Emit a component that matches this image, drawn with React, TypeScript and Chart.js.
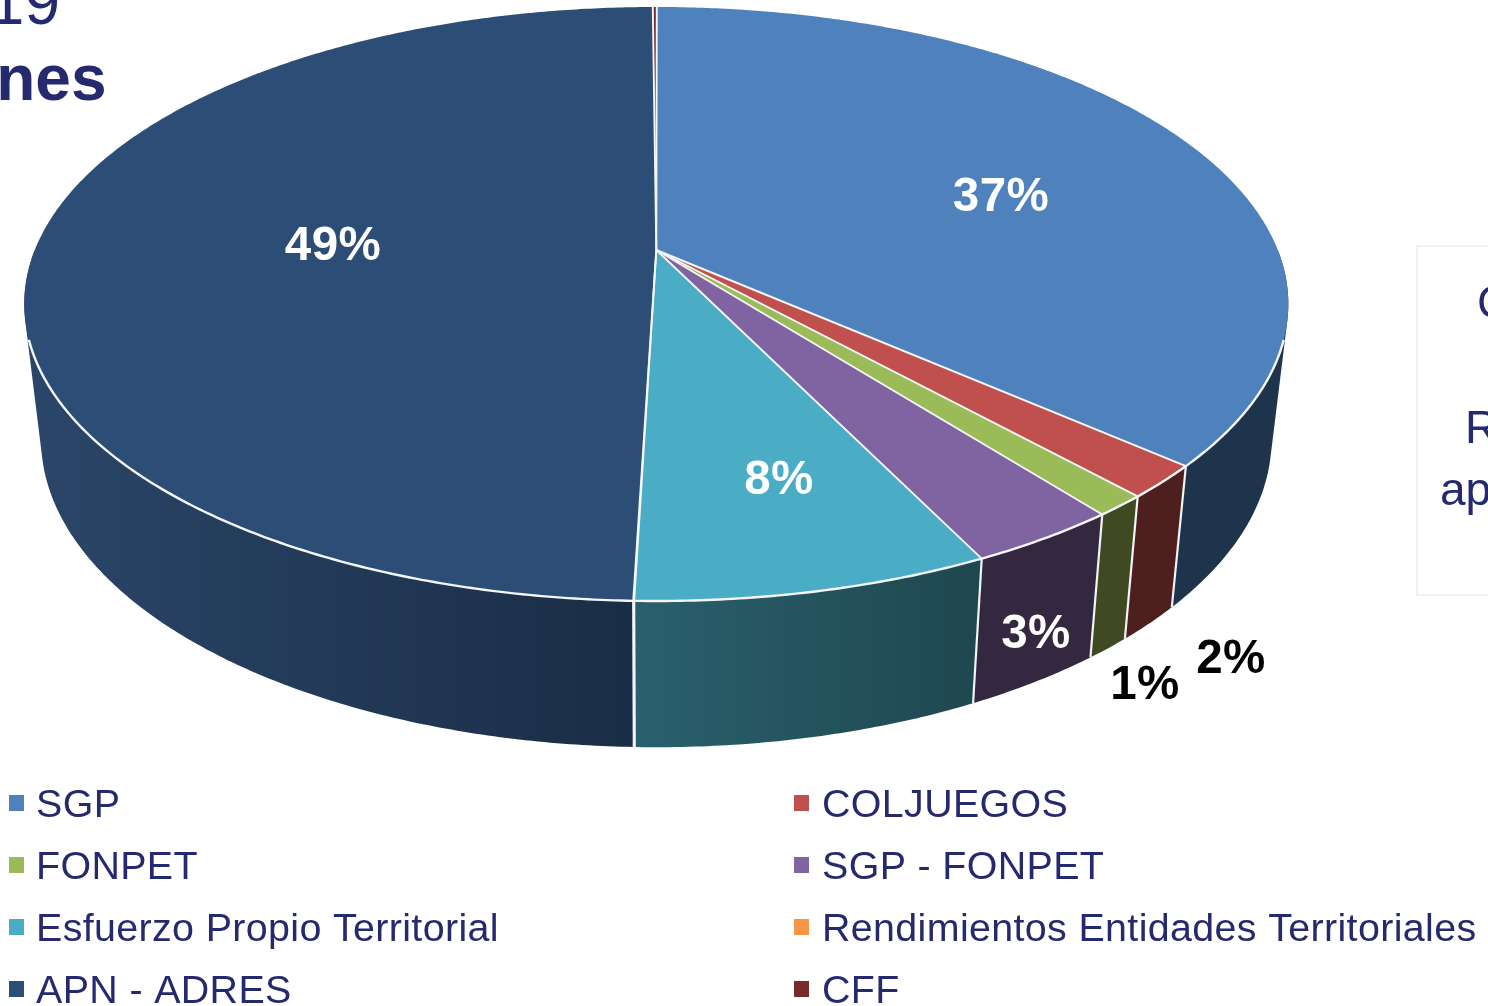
import React, { useEffect, useRef } from "react";
import { Chart, registerables } from "chart.js";

Chart.register(...registerables);

const categories = [
  "SGP",
  "COLJUEGOS",
  "FONPET",
  "SGP - FONPET",
  "Esfuerzo Propio Territorial",
  "Rendimientos Entidades Territoriales",
  "APN - ADRES",
  "CFF",
];
const shares = [36.5, 1.8, 1.15, 3.32, 7.68, 0.02, 49.41, 0.12];
const faceColors = ["#4f81bd", "#c0504d", "#9bbb59", "#8064a2", "#4bacc6", "#f79646", "#2c4d75", "#772c2a"];
const wallLeft = ["#1e344c", "#4d201f", "#3f4a22", "#33283f", "#2a606e", "#7a4a20", "#2b4669", "#3c1716"];
const wallRight = ["#1e344c", "#4d201f", "#3f4a22", "#33283f", "#1f474f", "#7a4a20", "#1a2d46", "#3c1716"];

const INK = "#252a6e";
const FONT = '"Liberation Sans", Arial, sans-serif';

// perspective of the pie's top and bottom discs
const K = -0.1818;
const TOP = { x: 656.3, y: 250, bx: 621.5, by: 287.2 };
const LOW = { x: 656.3, y: 383, bx: 605, by: 298 };

function project(disc: typeof TOP, t: number, r = 1) {
  const u = Math.cos(t) * r;
  const v = Math.sin(t) * r;
  const d = 1 + K * v;
  return { x: disc.x + (disc.bx * u) / d, y: disc.y + (disc.by * v) / d };
}

const STEP = Math.PI / 360;

function arcAngles(a: number, b: number) {
  const out: number[] = [a];
  for (let t = a + STEP; t < b; t += STEP) out.push(t);
  out.push(b);
  return out;
}

const pie3d = {
  id: "pie3d",
  beforeDatasetDraw(chart: any) {
    const ctx: CanvasRenderingContext2D = chart.ctx;
    const arcs = chart.getDatasetMeta(0).data;
    ctx.save();
    // side walls of the front half
    arcs.forEach((arc: any, i: number) => {
      const a = Math.max(arc.startAngle, 0);
      const b = Math.min(arc.endAngle, Math.PI);
      if (b <= a) return;
      const ts = arcAngles(a, b);
      let minX = Infinity;
      let maxX = -Infinity;
      ctx.beginPath();
      for (let k = 0; k < ts.length - 1; k++) {
        const p = [project(TOP, ts[k]), project(TOP, ts[k + 1]), project(LOW, ts[k + 1]), project(LOW, ts[k])];
        let area = 0;
        p.forEach((q, n) => {
          const w = p[(n + 1) % 4];
          area += q.x * w.y - w.x * q.y;
          minX = Math.min(minX, q.x);
          maxX = Math.max(maxX, q.x);
        });
        const o = area < 0 ? [...p].reverse() : p;
        ctx.moveTo(o[0].x, o[0].y);
        o.slice(1).forEach((q) => ctx.lineTo(q.x, q.y));
        ctx.closePath();
      }
      const g = ctx.createLinearGradient(minX, 0, maxX, 0);
      g.addColorStop(0, wallLeft[i]);
      g.addColorStop(1, wallRight[i]);
      ctx.fillStyle = g;
      ctx.fill();
    });
    // white seams between walls
    ctx.strokeStyle = "#f2f4f6";
    ctx.lineWidth = 2.2;
    arcs.forEach((arc: any) => {
      const t = arc.endAngle;
      if (Math.sin(t) < 0.4) return;
      const p = project(TOP, t);
      const q = project(LOW, t);
      ctx.beginPath();
      ctx.moveTo(p.x, p.y);
      ctx.lineTo(q.x, q.y);
      ctx.stroke();
    });
    // top faces
    arcs.forEach((arc: any, i: number) => {
      ctx.beginPath();
      ctx.moveTo(TOP.x, TOP.y);
      arcAngles(arc.startAngle, arc.endAngle).forEach((t) => {
        const p = project(TOP, t);
        ctx.lineTo(p.x, p.y);
      });
      ctx.closePath();
      ctx.fillStyle = faceColors[i];
      ctx.fill();
    });
    // radial edges, thin
    ctx.strokeStyle = "#f4f6f8";
    ctx.lineWidth = 1.9;
    arcs.forEach((arc: any) => {
      const p = project(TOP, arc.startAngle);
      ctx.beginPath();
      ctx.moveTo(TOP.x, TOP.y);
      ctx.lineTo(p.x, p.y);
      ctx.stroke();
    });
    // front rim, only where the wall shows under it
    ctx.lineWidth = 2.4;
    ctx.beginPath();
    arcAngles(0.3, Math.PI - 0.3).forEach((t, n) => {
      const p = project(TOP, t);
      if (n === 0) ctx.moveTo(p.x, p.y);
      else ctx.lineTo(p.x, p.y);
    });
    ctx.stroke();
    ctx.restore();
    return false;
  },
  afterDraw(chart: any) {
    const ctx: CanvasRenderingContext2D = chart.ctx as any;
    ctx.save();
    ctx.textBaseline = "alphabetic";

    // slice labels
    const anchors: Record<string, [number, number, string]> = {
      SGP: [1001, 211, "#ffffff"],
      COLJUEGOS: [1231, 673, "#000000"],
      FONPET: [1145, 699, "#000000"],
      "SGP - FONPET": [1036, 648, "#ffffff"],
      "Esfuerzo Propio Territorial": [779, 494, "#ffffff"],
      "APN - ADRES": [333, 260, "#ffffff"],
    };
    const total = shares.reduce((s, v) => s + v, 0);
    ctx.font = `bold 47.5px ${FONT}`;
    (ctx as any).letterSpacing = "0.4px";
    ctx.textAlign = "center";
    categories.forEach((c, i) => {
      const a = anchors[c];
      if (!a) return;
      ctx.fillStyle = a[2];
      ctx.fillText(`${Math.round((shares[i] / total) * 100 + 1e-6)}%`, a[0], a[1]);
    });

    // legend, two columns
    ctx.textAlign = "left";
    ctx.font = `39.4px ${FONT}`;
    (ctx as any).letterSpacing = "0.36px";
    categories.forEach((c, i) => {
      const col = i % 2;
      const row = Math.floor(i / 2);
      const y = 816.5 + row * 62;
      ctx.fillStyle = faceColors[i];
      ctx.fillRect(col ? 794 : 9, Math.round(y) - 22, 15, 16);
      ctx.fillStyle = INK;
      ctx.fillText(c, col ? 822 : 36, y);
    });
    (ctx as any).letterSpacing = "0px";

    // cropped slide text around the chart
    ctx.fillStyle = INK;
    ctx.font = `64px ${FONT}`;
    ctx.textAlign = "right";
    ctx.fillText("19", 60, 24);
    ctx.font = `bold 64px ${FONT}`;
    ctx.fillText("nes", 106.5, 100);
    ctx.textAlign = "left";
    ctx.font = `46px ${FONT}`;
    ctx.fillText("C", 1477, 318);
    ctx.fillText("R", 1465, 443);
    ctx.fillText("ap", 1440, 505);
    ctx.strokeStyle = "#edf1f8";
    ctx.lineWidth = 2;
    ctx.strokeRect(1417, 246, 90, 349);
    ctx.restore();
  },
};

export default function App() {
  const ref = useRef<HTMLCanvasElement>(null);
  useEffect(() => {
    const chart = new Chart(ref.current!, {
      type: "pie",
      data: {
        labels: categories,
        datasets: [{ data: shares, backgroundColor: faceColors, borderColor: "#ffffff" }],
      },
      options: {
        responsive: false,
        animation: false,
        rotation: 0.05,
        plugins: { legend: { display: false }, tooltip: { enabled: false }, title: { display: false } },
      },
      plugins: [pie3d],
    } as any);
    return () => chart.destroy();
  }, []);
  return (
    <canvas
      ref={ref}
      width={1488}
      height={1006}
      style={{ position: "absolute", left: 0, top: 0, width: 1488, height: 1006, display: "block", background: "#fff" }}
    />
  );
}
